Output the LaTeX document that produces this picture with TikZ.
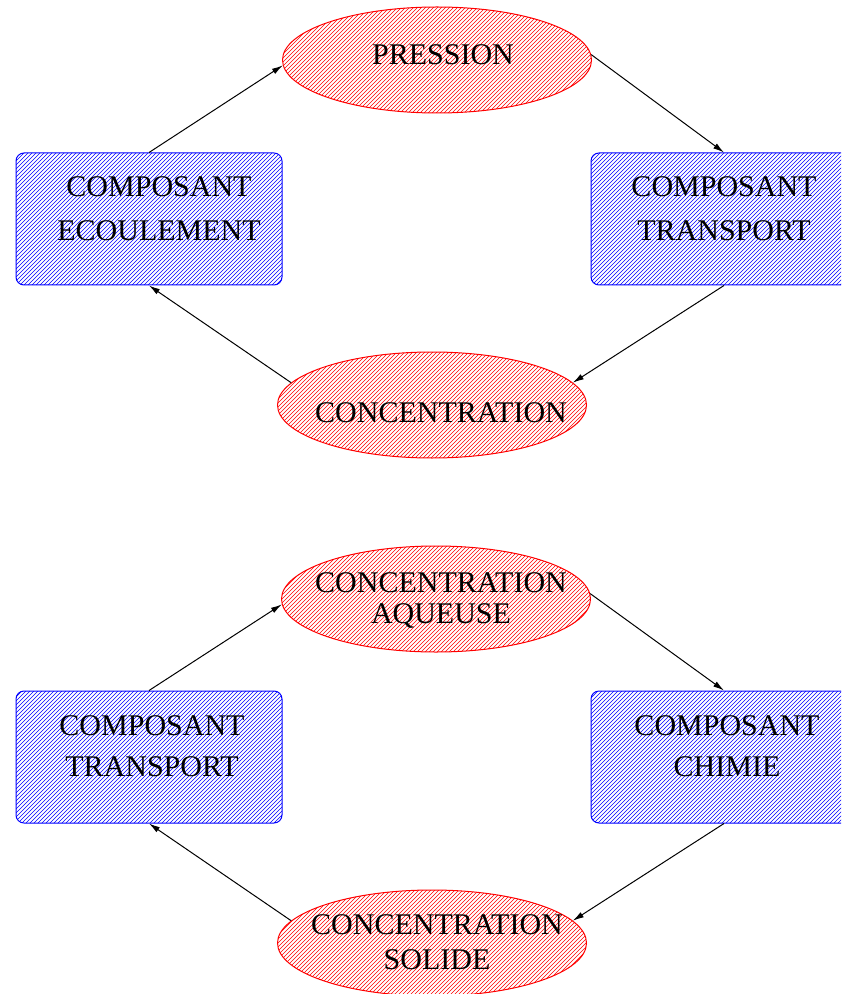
\documentclass[tikz,border=0pt]{standalone}
\usepackage{fontspec}
\setmainfont{Liberation Serif}
\usetikzlibrary{shapes.geometric,arrows.meta}
\tikzset{
  hatchline/.style={line width=0.22pt},
  comp/.style={rectangle, rounded corners=4pt, draw=blue, line width=0.5pt,
    minimum width=133pt, minimum height=66pt, inner sep=0pt},
  var/.style={ellipse, draw=red, line width=0.5pt,
    minimum width=154.5pt, minimum height=53pt, inner sep=0pt},
  lbl/.style={inner sep=0pt, align=center, font=\fontsize{15}{#1}\selectfont},
  lbl/.default=20,
  flow/.style={draw=black, line width=0.5pt, -{Latex[length=5.5pt,width=3pt]}}
}
% hatching on a global grid: lines x+y = 4m+1 (pixel units)
\newcommand\hatchbox[3]{%
  \begin{scope}
    \clip[rounded corners=4pt] ({#1-133},{#2-66}) rectangle ({#1+133},{#2+66});
    \foreach \m in {0,...,101}{%
      \pgfmathsetmacro\cc{4*floor((#1+#2-202)/4)+1+4*\m}%
      \draw[hatchline,#3] ({\cc-(#2+70)},{#2+70}) -- ({\cc-(#2-70)},{#2-70});
    }
  \end{scope}}
\newcommand\hatchell[3]{%
  \begin{scope}
    \clip (#1,#2) ellipse [x radius=154.5, y radius=53];
    \foreach \m in {0,...,106}{%
      \pgfmathsetmacro\cc{4*floor((#1+#2-210)/4)+1+4*\m}%
      \draw[hatchline,#3] ({\cc-(#2+56)},{#2+56}) -- ({\cc-(#2-56)},{#2-56});
    }
  \end{scope}}
\begin{document}
\begin{tikzpicture}[x=0.5pt,y=-0.5pt]
\clip (0,0) rectangle (841,994);
% hatching
\hatchell{437}{60}{red}
\hatchbox{149}{219}{blue}
\hatchbox{724}{219}{blue}
\hatchell{432}{405}{red}
\hatchell{436}{599}{red}
\hatchbox{149}{757}{blue}
\hatchbox{724}{757}{blue}
\hatchell{432}{943}{red}
% top diagram
\node[var] (pres) at (437,60) {};
\node[lbl] (presT) at (443,55) {PRESSION};
\node[comp] (ecoul) at (149,219) {};
\node[lbl=22] (ecoulT) at (159,209) {COMPOSANT\\ECOULEMENT};
\node[comp] (transA) at (724,219) {};
\node[lbl=22] (transAT) at (724,209) {COMPOSANT\\TRANSPORT};
\node[var] (conc) at (432,405) {};
\node[lbl] (concT) at (441,413) {CONCENTRATION};
\draw[flow] (ecoul.north) -- (pres.182);
\draw[flow] (pres.2) -- (transA.north);
\draw[flow] (transA.south) -- (conc.9);
\draw[flow] (conc.171) -- (ecoul.south);
% bottom diagram
\node[var] (aq) at (436,599) {};
\node[lbl=15.5] (aqT) at (441,600) {CONCENTRATION\\AQUEUSE};
\node[comp] (transB) at (149,757) {};
\node[lbl=20.5] (transBT) at (152,746) {COMPOSANT\\TRANSPORT};
\node[comp] (chim) at (724,757) {};
\node[lbl=20.5] (chimT) at (727,746) {COMPOSANT\\CHIMIE};
\node[var] (sol) at (432,943) {};
\node[lbl=17.5] (solT) at (437,942) {CONCENTRATION\\SOLIDE};
\draw[flow] (transB.north) -- (aq.182);
\draw[flow] (aq.2) -- (chim.north);
\draw[flow] (chim.south) -- (sol.9);
\draw[flow] (sol.171) -- (transB.south);
\end{tikzpicture}
\end{document}
